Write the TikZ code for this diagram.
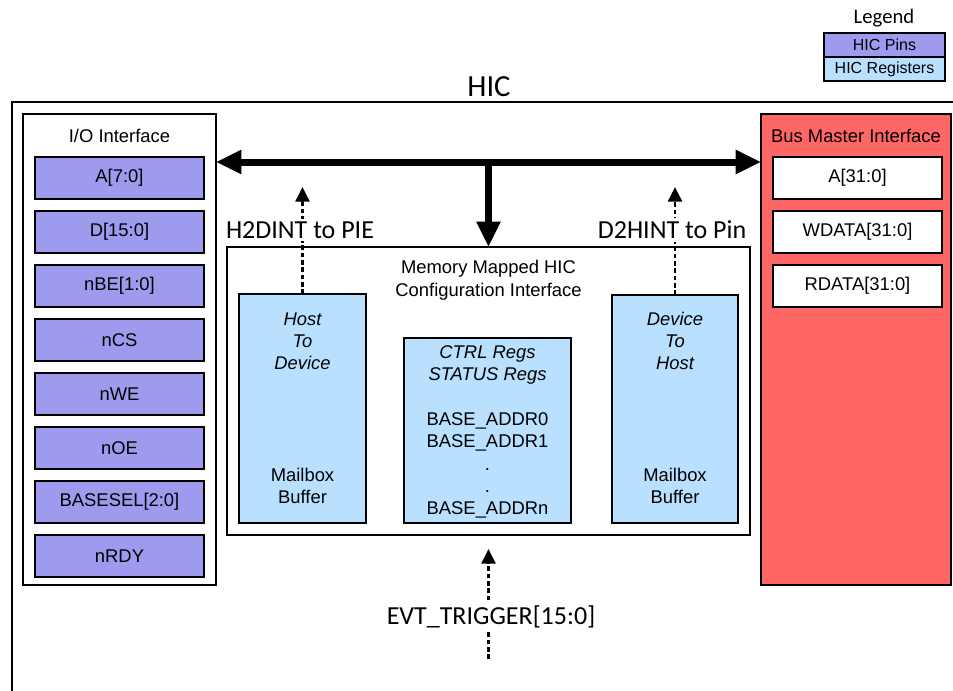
\documentclass[tikz,border=0pt]{standalone}
\usepackage{fontspec}
\setmainfont{Liberation Sans}
\newfontfamily\calfont{Carlito}
\usetikzlibrary{arrows.meta}
\definecolor{pinc}{RGB}{158,154,238}
\definecolor{regc}{RGB}{185,224,255}
\definecolor{bmc}{RGB}{255,102,102}
\begin{document}
\begin{tikzpicture}[x=0.75pt,y=-0.75pt,
  frame/.style={draw, line width=2pt},
  box/.style={draw, line width=1.6pt, inner sep=0pt, outer sep=0pt, align=center,
              font=\fontsize{13.8}{17}\selectfont},
  pin/.style={box, fill=pinc, minimum width=126.75pt, minimum height=31pt},
  bmbox/.style={box, fill=white, minimum width=126.75pt, minimum height=31pt},
  reg/.style={box, fill=regc},
  lbl/.style={font=\fontsize{13.8}{17.3}\selectfont, align=center, inner sep=0pt},
  sigtext/.style={font=\calfont\fontsize{19.5}{23}\selectfont, fill=white, inner sep=2pt},
  bus/.style={line width=5.25pt, -{Triangle[length=19pt,width=17pt]}},
  sig/.style={line width=1.9pt, dash pattern=on 3.5pt off 2pt, -{Triangle[length=11pt,width=10.5pt]}}
]
\useasboundingbox (0,0) rectangle (953,690);

% outer HIC frame (open at right and bottom)
\draw[frame] (12,700) -- (12,102) -- (960,102);
\node[font=\calfont\fontsize{23}{27}\selectfont, anchor=base] (hic) at (489,96) {HIC};

% legend
\node[font=\calfont\fontsize{15.5}{18}\selectfont] (legt) at (884,18) {Legend};
\node[box, fill=pinc, minimum width=90.75pt, minimum height=18pt, line width=1.3pt,
      font=\fontsize{12}{14}\selectfont] (lp) at (884.5,45) {HIC Pins};
\node[box, fill=regc, minimum width=90.75pt, minimum height=18pt, line width=1.3pt,
      font=\fontsize{12}{14}\selectfont] (lr) at (884.5,69) {HIC Registers};

% I/O interface
\node[box, fill=white, line width=2pt, minimum width=144.75pt, minimum height=353.25pt] (io) at (119.5,349.5) {};
\node[lbl] (iot) at (119.5,136) {I/O Interface};
\node[pin] (p0) at (119.5,178) {A[7:0]};
\node[pin] (p1) at (119.5,232) {D[15:0]};
\node[pin] (p2) at (119.5,286) {nBE[1:0]};
\node[pin] (p3) at (119.5,340) {nCS};
\node[pin] (p4) at (119.5,394) {nWE};
\node[pin] (p5) at (119.5,448) {nOE};
\node[pin] (p6) at (119.5,502) {BASESEL[2:0]};
\node[pin] (p7) at (119.5,556) {nRDY};

% Bus master interface
\node[box, fill=bmc, line width=2pt, minimum width=142.5pt, minimum height=353.25pt] (bm) at (856,349.5) {};
\node[lbl] (bmt) at (856,136) {Bus Master Interface};
\node[bmbox] (b0) at (857.5,178) {A[31:0]};
\node[bmbox] (b1) at (857.5,232) {WDATA[31:0]};
\node[bmbox] (b2) at (857.5,286) {RDATA[31:0]};

% Memory mapped configuration interface
\node[box, fill=white, line width=2pt, minimum width=392.25pt, minimum height=216pt] (mem) at (488.5,391) {};
\node[lbl] (memt) at (488.5,280.5) {Memory Mapped HIC\\Configuration Interface};

\node[reg, minimum width=95.25pt, minimum height=171.75pt] (host) at (302.5,408.5) {};
\node[lbl, font=\fontsize{13.8}{16.5}\selectfont\itshape] (hostt) at (302.5,341) {Host\\To\\Device};
\node[lbl, font=\fontsize{13.8}{16.5}\selectfont] (hostb) at (302.5,486) {Mailbox\\Buffer};

\node[reg, minimum width=94.5pt, minimum height=171pt] (dev) at (675,409) {};
\node[lbl, font=\fontsize{13.8}{16.5}\selectfont\itshape] (devt) at (675,341) {Device\\To\\Host};
\node[lbl, font=\fontsize{13.8}{16.5}\selectfont] (devb) at (675,486) {Mailbox\\Buffer};

\node[reg, minimum width=125.25pt, minimum height=138.75pt] (regs) at (487.5,430.5) {};
\node[lbl, font=\fontsize{13.8}{16.7}\selectfont] (regst) at (487.5,432)
  {\textit{CTRL Regs}\\\textit{STATUS Regs}\\~\\BASE\_ADDR0\\BASE\_ADDR1\\.\\.\\BASE\_ADDRn};

% bus
\coordinate (busy) at (0,162);
\draw[bus, {Triangle[length=19pt,width=17pt]}-{Triangle[length=19pt,width=17pt]}] (io.east |- busy) -- (bm.west |- busy);
\draw[bus] (mem.north |- busy) -- (mem.north);

% interrupt signals
\coordinate (sigtop) at (0,187);
\draw[sig] (host.north) -- (host.north |- sigtop);
\node[sigtext] (h2d) at (300,230) {H2DINT to PIE};
\draw[sig] (dev.north) -- (dev.north |- sigtop);
\node[sigtext] (d2h) at (672,230) {D2HINT to Pin};

% event trigger
\coordinate (evtbot) at (488.5,659);
\draw[sig, shorten >=10.5pt] (evtbot) -- (mem.south);
\node[sigtext] (evt) at (491,617) {EVT\_TRIGGER[15:0]};
\end{tikzpicture}
\end{document}
